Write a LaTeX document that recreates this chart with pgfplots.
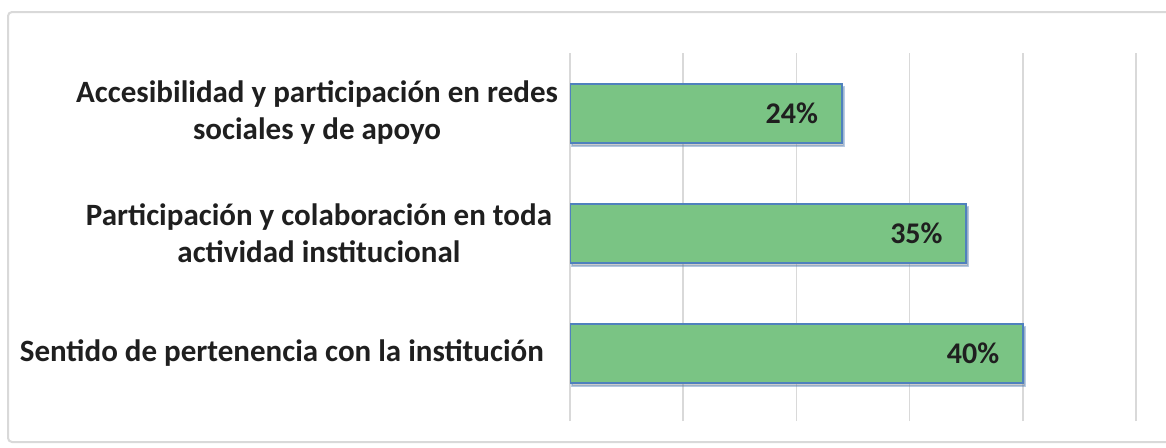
\documentclass[border=0pt]{standalone}
\usepackage{pgfplots}
\pgfplotsset{compat=1.18}
\usepackage{fontspec}
\setmainfont{Carlito}
\usetikzlibrary{shadows}

\definecolor{barfill}{RGB}{122,196,132}
\definecolor{barline}{RGB}{79,129,189}
\definecolor{gridgray}{RGB}{217,217,217}

\begin{document}
\begin{tikzpicture}
  % page = 1166 x 447 px, 1 px = 0.5pt
  \useasboundingbox (0,0) rectangle (583pt,223.5pt);
  \fill[white] (0,0) rectangle (583pt,223.5pt);
  \draw[gray!30, line width=1pt, rounded corners=2pt] (4pt,2.5pt) rectangle (590pt,217.5pt);

  \begin{axis}[
    at={(285pt,17pt)}, anchor=south west,
    scale only axis,
    width=283pt, height=180pt,
    xbar, bar width=29.5pt,
    xmin=0, xmax=50,
    ymin=-0.5, ymax=2.5,
    xtick={0,10,20,30,40,50},
    xticklabels={},
    xmajorgrids,
    major grid style={gridgray, line width=0.8pt},
    xtick pos=bottom, tick align=outside,
    major tick length=4pt,
    xtick style={gridgray, line width=0.8pt},
    ytick={0,1,2},
    yticklabels={
      {Sentido de pertenencia con la institución\hspace*{7pt}},
      {Participación y colaboración en toda\hspace*{3pt}\\actividad institucional\hspace*{3pt}},
      {Accesibilidad y participación en redes\\sociales y de apoyo}},
    ytick style={draw=none},
    yticklabel style={align=center, font=\bfseries\fontsize{15.5}{18.5}\selectfont, text=black!88, xshift=1.5pt},
    axis line style={draw=none},
    /pgf/number format/assume math mode=true,
    nodes near coords={\pgfmathprintnumber{\pgfplotspointmeta}\%},
    nodes near coords style={anchor=east, xshift=-8pt, font=\bfseries\fontsize{15}{18}\selectfont, text=black!88},
    point meta=x,
  ]
    \addplot[fill=barfill, draw=barline, line width=1pt,
      drop shadow={shadow xshift=1pt, shadow yshift=-1.8pt, opacity=0.4}]
      coordinates {(40,0) (35,1) (24,2)};
  \end{axis}
\end{tikzpicture}
\end{document}
